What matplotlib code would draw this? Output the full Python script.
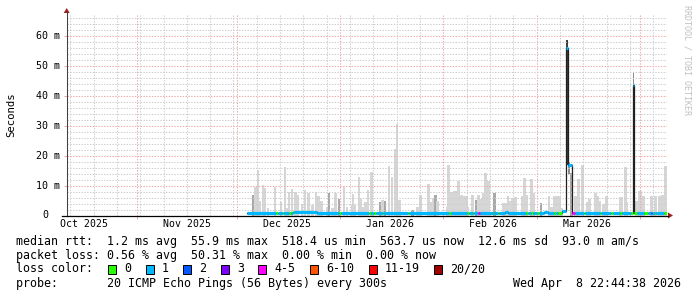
import datetime as dt

import matplotlib
matplotlib.use("Agg")
import matplotlib.pyplot as plt
import matplotlib.dates as mdates
from matplotlib.lines import Line2D
from matplotlib.patches import Polygon, Rectangle
from matplotlib.ticker import MultipleLocator

# ---- data: times are days after the first sample, values in ms ----
DATA_START = dt.datetime(2025, 12, 4)
GRAPH_END = dt.datetime(2026, 4, 8, 22, 44, 38)
SPAN_DAYS = 180
Y_TOP = 67.1
DATA_END = 125.95

# smoke (spread of the 20 pings); dense = most pings packed in the range
smoke_day = [1.9, 2.6, 3.4, 4.0, 4.9, 5.5, 6.4, 8.5, 10.2, 11.5, 12.1, 12.6,
             13.6, 14.6, 15.4, 16.5, 17.5, 18.5, 19.7, 20.7, 21.5, 22.4, 24.0,
             24.6, 25.7, 26.6, 27.7, 29.2, 30.0, 31.6, 31.9, 32.4, 33.6, 34.1,
             34.8, 35.6, 36.4, 37.4, 39.9, 40.7, 41.5, 42.7, 43.5, 44.5, 45.1,
             45.8, 49.7, 51.2, 52.1, 54.5, 55.2, 55.8, 56.6, 57.2, 60.2, 60.5,
             61.5, 62.3, 62.9, 63.5, 64.5, 65.2, 65.9, 66.4, 67.8, 68.8, 69.5,
             70.4, 71.0, 71.6, 72.5, 74.3, 76.9, 77.7, 78.4, 79.0, 79.8, 80.6,
             82.8, 83.4, 84.0, 85.5, 86.1, 88.3, 90.7, 91.5, 92.4, 92.9, 93.9,
             94.6, 97.5, 98.6, 99.2, 99.6, 100.8, 102.2, 102.8, 104.6, 105.2,
             105.8, 107.0, 108.0, 112.0, 112.6, 113.6, 114.1, 116.9, 117.7,
             118.3, 119.0, 121.5, 122.7, 123.9, 124.8, 125.6]
smoke_top = [6.9, 9.6, 15.2, 4.8, 10.2, 9.2, 2.5, 9.6, 4.6, 16.2, 2.5, 8.0,
             8.8, 8.0, 6.9, 4.0, 8.5, 7.4, 3.4, 8.0, 6.5, 4.8, 3.0,
             7.4, 2.5, 7.6, 5.4, 9.6, 3.0, 3.5, 7.2, 3.5, 12.8, 5.5,
             2.7, 4.5, 8.5, 14.6, 4.5, 5.3, 4.8, 16.5, 12.8, 22.2, 30.5,
             5.2, 2.0, 2.9, 6.8, 10.5, 4.5, 6.0, 6.8, 5.0, 2.9, 16.9,
             8.0, 8.3, 8.3, 11.6, 6.9, 6.5, 6.5, 3.0, 6.9, 5.2, 6.9,
             5.4, 7.4, 14.3, 11.6, 7.4, 4.3, 4.3, 6.5, 4.8, 6.0, 6.2,
             6.5, 12.5, 6.9, 12.2, 7.4, 4.3, 6.5, 3.0, 6.5, 6.5, 6.5,
             2.5, 14.2, 6.4, 4.3, 12.2, 16.9, 4.5, 5.6, 7.6, 6.4,
             5.0, 4.0, 6.4, 6.2, 6.2, 16.3, 4.5, 5.0, 8.2,
             8.2, 6.4, 6.4, 6.4, 6.4, 7.0, 16.5]
dense_days = [1.9, 24.6, 27.7, 39.9, 41.5, 49.7, 56.6, 68.8, 74.3, 88.3, 97.5]

# smoke during the two latency spikes
spike_day = [95.85, 96.5, 115.8]
spike_end = [96.5, 97.0, 116.3]
spike_low = [17.0, 14.0, 43.0]
spike_high = [58.7, 17.8, 48.1]

# median rtt, as steps: start day, value, loss class (index into loss_labels)
med_start = [0.0, 8.8, 9.3, 10.9, 11.3, 12.7, 13.3, 14.0, 14.3, 21.0,
             27.7, 28.3, 36.8, 37.4, 38.3, 38.9, 41.0, 41.3, 48.5, 48.8,
             60.8, 61.4, 66.2, 66.6, 68.0, 68.3, 69.5, 69.9, 73.8, 74.1,
             75.3, 75.6, 77.4, 78.5, 83.7, 84.3, 85.2, 85.8, 87.0, 87.6,
             89.1, 90.3, 92.1, 92.7, 93.3, 94.5, 95.85, 96.5, 97.45, 97.7,
             98.4, 101.1, 101.4, 105.9, 106.2, 109.2, 109.8, 111.9, 112.5, 115.4,
             115.8, 116.3, 117.1, 119.1, 120.4, 121.3, 121.6, 122.5, 122.8, 125.1]
med_value = [0.85, 0.85, 0.85, 0.85, 0.85, 0.85, 0.85, 1.2, 1.2, 0.85,
             0.85, 0.85, 0.85, 0.85, 0.85, 0.85, 0.85, 0.85, 0.85, 0.85,
             0.85, 0.85, 0.85, 0.85, 0.85, 0.85, 0.85, 0.85, 0.85, 0.85,
             0.85, 0.85, 1.3, 0.85, 0.85, 0.85, 0.85, 0.85, 0.85, 0.85,
             1.3, 0.85, 0.85, 0.85, 0.85, 1.4, 55.9, 16.9, 0.85, 0.85,
             0.85, 0.85, 0.85, 0.85, 0.85, 0.85, 0.85, 0.85, 0.85, 0.85,
             43.6, 0.85, 0.85, 0.85, 0.85, 0.85, 0.85, 0.85, 0.85, 0.85]
med_loss = [1, 0, 1, 0, 1, 0, 1, 0, 1, 1,
            0, 1, 0, 1, 0, 1, 0, 1, 0, 1,
            0, 1, 0, 1, 0, 1, 4, 1, 0, 1,
            0, 1, 1, 1, 0, 1, 0, 1, 0, 1,
            1, 1, 0, 1, 0, 1, 1, 1, 1, 4,
            1, 0, 1, 0, 1, 0, 1, 0, 1, 0,
            1, 0, 1, 0, 1, 3, 1, 0, 1, 0]

loss_labels = ["0", "1", "2", "3", "4-5", "6-10", "11-19", "20/20"]
loss_colors = ["#26ff00", "#00b8ff", "#0059ff", "#7e00ff", "#ff00ff",
               "#ff5500", "#ff0000", "#a10000"]

rtt_values = ["1.2 ms", "55.9 ms", "518.4 us", "563.7 us", "12.6 ms", "93.0 m"]
rtt_names = ["avg", "max", "min", "now", "sd", "am/s"]
pl_values = ["0.56 %", "50.31 %", "0.00 %", "0.00 %"]
pl_names = ["avg", "max", "min", "now"]
probe_text = "20 ICMP Echo Pings (56 Bytes) every 300s"
stamp_text = "Wed Apr  8 22:44:38 2026"

# ---- figure ----
W, H = 697, 297
MONO = "DejaVu Sans Mono"
plt.rcParams["font.family"] = MONO


def fx(px):
    return px / W


def fy(py):
    return 1 - py / H


fig = plt.figure(figsize=(W / 100, H / 100), dpi=100)
X0, X1, YB = 66.7, 666.5, 215.5
px_per_ms = 2.99
ax = fig.add_axes([fx(X0), fy(YB), fx(X1) - fx(X0),
                   Y_TOP * px_per_ms / H])

base = mdates.date2num(DATA_START)
ax.set_xlim(mdates.date2num(GRAPH_END - dt.timedelta(days=SPAN_DAYS)),
            mdates.date2num(GRAPH_END))
ax.set_ylim(0, Y_TOP)

# smoke
shade_light, shade_dense = "#d6d6d6", "#a8a8a8"
ax.bar([base + d for d in smoke_day], smoke_top, width=0.75,
       color=[shade_dense if d in dense_days else shade_light
              for d in smoke_day], linewidth=0, zorder=1)
spike_col = ["#3c3c3c", "#8c8c8c", "#8c8c8c"]
for d0, d1, lo, hi, c in zip(spike_day, spike_end, spike_low, spike_high,
                             spike_col):
    ax.bar(base + d0, hi - lo, bottom=lo, width=d1 - d0, align="edge",
           color=c, linewidth=0, zorder=1)

# median: thin dark step line plus thick loss-coloured segments
t = [base + s for s in med_start] + [base + DATA_END]
v = med_value + [med_value[-1]]
ax.step(t, v, where="post", color="#202020", lw=0.9, zorder=3)
ax.hlines(med_value, t[:-1], t[1:], colors=[loss_colors[k] for k in med_loss],
          lw=2.3, zorder=4, capstyle="butt")

# grid
ax.xaxis.set_major_locator(mdates.MonthLocator())
ax.xaxis.set_minor_locator(mdates.WeekdayLocator(byweekday=mdates.SU))
ax.yaxis.set_major_locator(MultipleLocator(10))
ax.yaxis.set_minor_locator(MultipleLocator(2))
ax.set_axisbelow("line")
ax.grid(which="major", color="#f0a8a8", lw=0.75, ls=(0, (1.3, 1.4)))
ax.grid(which="minor", color="#cdcdcd", lw=0.75, ls=(0, (1.3, 1.4)))
ax.tick_params(which="major", length=2.2, width=0.72, color="#f0a8a8",
               labelleft=False, labelbottom=False)
ax.tick_params(which="minor", length=0)
for s in ax.spines.values():
    s.set_visible(False)

# tick labels (month labels sit in the middle of the month)
for v_ in range(0, int(Y_TOP) + 1, 10):
    lab = f"{v_} m" if v_ else "0"
    off = -6.5 if v_ else -6.5 - 2 * 6.0
    ax.annotate(lab, xy=(0, v_), xycoords=ax.get_yaxis_transform(),
                xytext=(off * 0.72, 0), textcoords="offset points",
                ha="right", va="center", fontsize=7.2)
for m in [dt.datetime(2025, 10, 16), dt.datetime(2025, 11, 16),
          dt.datetime(2025, 12, 16), dt.datetime(2026, 1, 16),
          dt.datetime(2026, 2, 16), dt.datetime(2026, 3, 16)]:
    ax.annotate(m.strftime("%b %Y"), xy=(mdates.date2num(m), 0),
                xycoords=ax.get_xaxis_transform(),
                xytext=(0, -8.5 * 0.72), textcoords="offset points",
                ha="center", va="center", fontsize=7.1)

# axes lines and arrows
fig.add_artist(Line2D([fx(X0), fx(X0)], [fy(YB), fy(12)], color="#404040",
                      lw=0.75))
fig.add_artist(Line2D([fx(62), fx(668)], [fy(YB), fy(YB)], color="black",
                      lw=0.9))
arrow = "#a02020"
fig.add_artist(Polygon([[fx(X0 - 3), fy(13)], [fx(X0 + 3), fy(13)],
                        [fx(X0), fy(8)]], closed=True, color=arrow, lw=0))
fig.add_artist(Polygon([[fx(668), fy(YB - 3)], [fx(668), fy(YB + 3)],
                        [fx(673), fy(YB)]], closed=True, color=arrow, lw=0))

fig.text(fx(11), fy(114.5), "Seconds", rotation=90, ha="center",
         va="center", fontsize=7.7)
fig.text(fx(686.5), fy(5), "RRDTOOL / TOBI OETIKER", rotation=270,
         ha="center", va="top", fontsize=6, color="#c0c0c0")

# legend block
FS = 8.4
CW = 7.0
rtt_line = "median rtt:" + "".join(f"  {a} {b}" for a, b in zip(rtt_values,
                                                                 rtt_names))
pl_line = "packet loss:" + "".join(f" {a} {b} " for a, b in zip(pl_values,
                                                                pl_names))
fig.text(fx(16), fy(241), rtt_line, fontsize=FS, va="center")
fig.text(fx(16), fy(255), pl_line.rstrip(), fontsize=FS, va="center")
fig.text(fx(16), fy(269), "loss color:", fontsize=FS, va="center")
bx = 16 + 13 * CW + 1
for lab, col in zip(loss_labels, loss_colors):
    fig.add_artist(Rectangle((fx(bx), fy(274)), 8 / W, 9 / H,
                             facecolor=col, edgecolor="black", lw=0.7))
    fig.text(fx(bx + 16.4), fy(269), lab, fontsize=FS, va="center")
    bx += 16.4 + CW * len(lab) + 14.2
fig.text(fx(16), fy(284), "probe:       " + probe_text, fontsize=FS,
         va="center")
fig.text(fx(681), fy(284), stamp_text, fontsize=FS, va="center", ha="right")

fig.savefig("out.png", dpi=100)
